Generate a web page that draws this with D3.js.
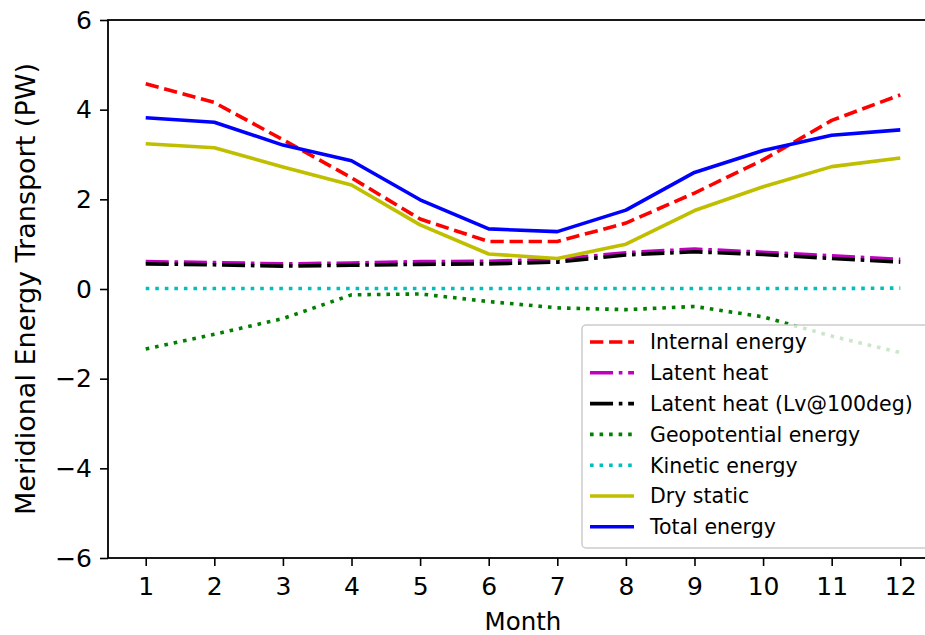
<!DOCTYPE html>
<html>
<head>
<meta charset="utf-8">
<script src="https://cdn.jsdelivr.net/npm/d3@7"></script>
<style>
  html, body { margin: 0; padding: 0; background: #fff; }
  svg { display: block; font-family: "DejaVu Sans", sans-serif; }
</style>
</head>
<body>
<svg id="chart" width="925" height="635"></svg>
<script>
// --- Data ---
const months = [1, 2, 3, 4, 5, 6, 7, 8, 9, 10, 11, 12];
const internalEnergy = [4.58, 4.16, 3.33, 2.48, 1.56, 1.06, 1.06, 1.47, 2.14, 2.88, 3.76, 4.33];
const latentHeat = [0.61, 0.59, 0.56, 0.58, 0.61, 0.62, 0.66, 0.81, 0.89, 0.82, 0.74, 0.66];
const latentHeatLv = [0.56, 0.54, 0.51, 0.53, 0.55, 0.56, 0.60, 0.76, 0.83, 0.77, 0.68, 0.60];
const geopotential = [-1.34, -1.01, -0.66, -0.13, -0.11, -0.28, -0.42, -0.46, -0.39, -0.62, -1.05, -1.42];
const kineticEnergy = [0.01, 0.01, 0.01, 0.01, 0.01, 0.01, 0.01, 0.01, 0.01, 0.01, 0.01, 0.02];
const dryStatic = [3.24, 3.15, 2.72, 2.32, 1.43, 0.78, 0.68, 1.00, 1.75, 2.28, 2.73, 2.92];
const totalEnergy = [3.82, 3.72, 3.21, 2.86, 1.99, 1.34, 1.28, 1.76, 2.60, 3.09, 3.43, 3.55];
const yTicks = [-6, -4, -2, 0, 2, 4, 6];

// --- Series styling ---
const LW = 3.6;
const series = [
  { name: 'Internal energy', values: internalEnergy, color: '#ff0000', dash: [3.7 * LW, 1.6 * LW] },
  { name: 'Latent heat', values: latentHeat, color: '#bf00bf', dash: [6.4 * LW, 1.6 * LW, 1 * LW, 1.6 * LW] },
  { name: 'Latent heat (Lv@100deg)', values: latentHeatLv, color: '#000000', dash: [6.4 * LW, 1.6 * LW, 1 * LW, 1.6 * LW] },
  { name: 'Geopotential energy', values: geopotential, color: '#008000', dash: [1 * LW, 1.65 * LW] },
  { name: 'Kinetic energy', values: kineticEnergy, color: '#00bfbf', dash: [1 * LW, 1.65 * LW] },
  { name: 'Dry static', values: dryStatic, color: '#bfbf00', dash: null },
  { name: 'Total energy', values: totalEnergy, color: '#0000ff', dash: null }
];

// --- Layout ---
const plot = { left: 108, top: 20, right: 938, bottom: 558 };
const svg = d3.select('#chart');

const x = d3.scaleLinear().domain([0.45, 12.55]).range([plot.left, plot.right]);
const y = d3.scaleLinear().domain([-6, 6]).range([plot.bottom, plot.top]);

svg.append('defs').append('clipPath').attr('id', 'plot-clip')
  .append('rect')
  .attr('x', plot.left).attr('y', plot.top)
  .attr('width', plot.right - plot.left).attr('height', plot.bottom - plot.top);

// --- Lines ---
const line = d3.line()
  .x((d, i) => x(months[i]))
  .y(d => y(d));

const lines = svg.append('g').attr('clip-path', 'url(#plot-clip)');
series.forEach(s => {
  lines.append('path')
    .datum(s.values)
    .attr('d', line)
    .attr('fill', 'none')
    .attr('stroke', s.color)
    .attr('stroke-width', LW)
    .attr('stroke-linejoin', 'round')
    .attr('stroke-dasharray', s.dash ? s.dash.join(',') : null);
});

// --- Axes ---
const xAxis = svg.append('g')
  .attr('transform', `translate(0,${plot.bottom})`)
  .call(d3.axisBottom(x).tickValues(months).tickFormat(d3.format('d')).tickSize(8).tickPadding(11));

const yAxis = svg.append('g')
  .attr('transform', `translate(${plot.left},0)`)
  .call(d3.axisLeft(y).tickValues(yTicks).tickFormat(d3.format('d')).tickSize(8).tickPadding(8));

[xAxis, yAxis].forEach(g => {
  g.select('.domain').remove();
  g.selectAll('.tick line').attr('stroke', '#000').attr('stroke-width', 1.6);
  g.selectAll('.tick text')
    .attr('fill', '#000')
    .style('font-family', '"DejaVu Sans", sans-serif')
    .style('font-size', '25px');
});

// Spines (right one falls outside the picture)
svg.append('rect')
  .attr('x', plot.left).attr('y', plot.top)
  .attr('width', plot.right - plot.left).attr('height', plot.bottom - plot.top)
  .attr('fill', 'none')
  .attr('stroke', '#000')
  .attr('stroke-width', 1.8);

// --- Axis labels ---
svg.append('text')
  .attr('x', (plot.left + plot.right) / 2)
  .attr('y', 630)
  .attr('text-anchor', 'middle')
  .style('font-size', '24.5px')
  .text('Month');

svg.append('text')
  .attr('transform', `translate(35,${(plot.top + plot.bottom) / 2}) rotate(-90)`)
  .attr('text-anchor', 'middle')
  .style('font-size', '27px')
  .text('Meridional Energy Transport (PW)');

// --- Legend ---
const legend = svg.append('g');
legend.append('rect')
  .attr('x', 582).attr('y', 325)
  .attr('width', 370).attr('height', 223)
  .attr('rx', 4)
  .attr('fill', '#fff').attr('fill-opacity', 0.8)
  .attr('stroke', '#cccccc').attr('stroke-width', 1.5);

series.forEach((s, i) => {
  const rowY = 342 + i * 30.8;
  legend.append('line')
    .attr('x1', 590).attr('x2', 634)
    .attr('y1', rowY).attr('y2', rowY)
    .attr('stroke', s.color)
    .attr('stroke-width', LW)
    .attr('stroke-dasharray', s.dash ? s.dash.join(',') : null);
  legend.append('text')
    .attr('x', 650).attr('y', rowY)
    .attr('dy', '0.36em')
    .style('font-size', '20.5px')
    .attr('fill', '#000')
    .text(s.name);
});
</script>
</body>
</html>
